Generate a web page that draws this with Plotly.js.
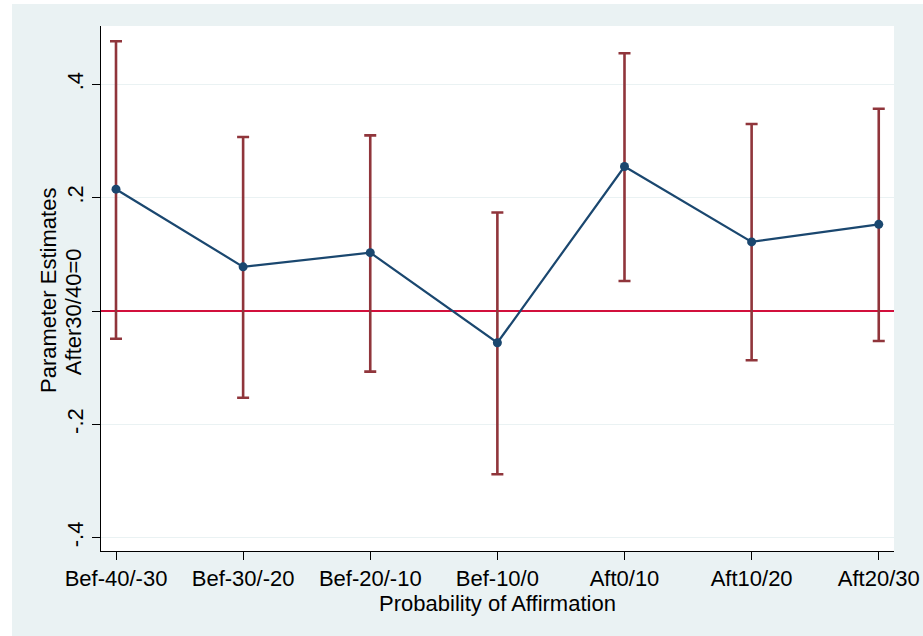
<!DOCTYPE html>
<html>
<head>
<meta charset="utf-8">
<script src="https://cdn.plot.ly/plotly-3.0.1.min.js"></script>
<style>
  html, body { margin: 0; padding: 0; background: #ffffff; width: 923px; height: 636px; overflow: hidden; }
  #chart { position: absolute; left: 12px; top: 4px; width: 911px; height: 632px; }
</style>
</head>
<body>
<div id="chart"></div>
<script>
const categories = ["Bef-40/-30", "Bef-30/-20", "Bef-20/-10", "Bef-10/0", "Aft0/10", "Aft10/20", "Aft20/30"];
const estimates = [0.215, 0.078, 0.103, -0.056, 0.255, 0.122, 0.153];
const ciLower = [-0.049, -0.153, -0.107, -0.288, 0.053, -0.087, -0.053];
const ciUpper = [0.476, 0.307, 0.310, 0.174, 0.455, 0.330, 0.357];
const yTickVals = [-0.4, -0.2, 0, 0.2, 0.4];
const yTickText = ["-.4", "-.2", "", ".2", ".4"];
const yTitleLines = ["Parameter Estimates", "After30/40=0"];
const xTitle = "Probability of Affirmation";

const errPlus = estimates.map((v, i) => ciUpper[i] - v);
const errMinus = estimates.map((v, i) => v - ciLower[i]);

const font = "Liberation Sans, Arial, sans-serif";
const fs = 22;

const traces = [
  {
    type: "scatter",
    mode: "markers",
    x: categories,
    y: estimates,
    marker: { size: 0.1, color: "rgba(0,0,0,0)" },
    error_y: {
      type: "data",
      symmetric: false,
      array: errPlus,
      arrayminus: errMinus,
      color: "#90353B",
      thickness: 2.6,
      width: 6
    },
    hoverinfo: "skip",
    showlegend: false
  },
  {
    type: "scatter",
    mode: "lines+markers",
    x: categories,
    y: estimates,
    line: { color: "#1A476F", width: 2.2 },
    marker: { color: "#1A476F", size: 9 },
    showlegend: false
  }
];

const layout = {
  width: 911,
  height: 632,
  margin: { l: 89, r: 29, t: 22, b: 85 },
  paper_bgcolor: "#EAF2F3",
  plot_bgcolor: "#FFFFFF",
  font: { family: font, size: fs, color: "#000000" },
  showlegend: false,
  xaxis: {
    type: "category",
    range: [-0.118, 6.12],
    showgrid: false,
    zeroline: false,
    showline: true,
    linecolor: "#000000",
    linewidth: 1,
    ticks: "outside",
    ticklen: 8,
    tickcolor: "#000000",
    tickfont: { family: font, size: fs, color: "#000000" },
    title: { text: xTitle, font: { family: font, size: fs, color: "#000000" }, standoff: 0 },
    automargin: false
  },
  yaxis: {
    range: [-0.4235, 0.503],
    tickvals: yTickVals,
    ticktext: yTickText,
    tickangle: -90,
    showgrid: true,
    gridcolor: "#EAF2F3",
    gridwidth: 1.5,
    zeroline: true,
    zerolinecolor: "#D2103C",
    zerolinewidth: 2.4,
    showline: true,
    linecolor: "#000000",
    linewidth: 1,
    ticks: "outside",
    ticklen: 8,
    tickcolor: "#000000",
    tickfont: { family: font, size: fs, color: "#000000" },
    automargin: false
  },
  annotations: [
    {
      text: yTitleLines[0], textangle: -90, showarrow: false,
      xref: "paper", yref: "paper", x: -0.0669, y: 0.497,
      xanchor: "center", yanchor: "middle",
      font: { family: font, size: fs, color: "#000000" }
    },
    {
      text: yTitleLines[1], textangle: -90, showarrow: false,
      xref: "paper", yref: "paper", x: -0.0353, y: 0.455,
      xanchor: "center", yanchor: "middle",
      font: { family: font, size: fs, color: "#000000" }
    }
  ]
};

Plotly.newPlot("chart", traces, layout, { displayModeBar: false, staticPlot: true });
</script>
</body>
</html>
